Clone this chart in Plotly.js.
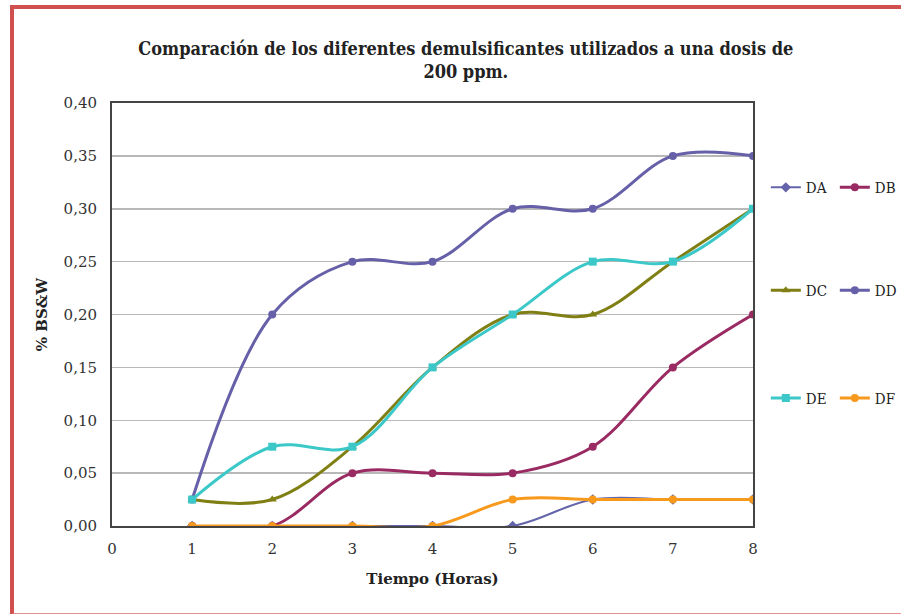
<!DOCTYPE html>
<html>
<head>
<meta charset="utf-8">
<script src="https://cdn.plot.ly/plotly-3.0.1.min.js"></script>
<style>
html,body{margin:0;padding:0;background:#fff;overflow:hidden;}
#frame{position:absolute;left:10px;top:5px;width:900px;height:604px;border-left:4px solid #d05050;border-top:4px solid #d05050;border-bottom:2px solid #e89090;}
#chart{position:absolute;left:0;top:0;width:901px;height:614px;}
</style>
</head>
<body>
<div id="frame"></div>
<div id="chart"></div>
<script>
const hours = [1, 2, 3, 4, 5, 6, 7, 8];
const DA = [0, 0, 0, 0, 0, 0.025, 0.025, 0.025];
const DB = [0, 0, 0.05, 0.05, 0.05, 0.075, 0.15, 0.2];
const DC = [0.025, 0.025, 0.075, 0.15, 0.2, 0.2, 0.25, 0.3];
const DD = [0.025, 0.2, 0.25, 0.25, 0.3, 0.3, 0.35, 0.35];
const DE = [0.025, 0.075, 0.075, 0.15, 0.2, 0.25, 0.25, 0.3];
const DF = [0, 0, 0, 0, 0.025, 0.025, 0.025, 0.025];
const xTicks = [0, 1, 2, 3, 4, 5, 6, 7, 8];
const yTicks = [0, 0.05, 0.10, 0.15, 0.20, 0.25, 0.30, 0.35, 0.40];

function tr(name, y, color, symbol, legend, width) {
  return {
    x: hours, y: y, name: name, type: 'scatter', mode: 'lines+markers',
    line: {color: color, width: width || 3, shape: 'spline', smoothing: 1},
    marker: {color: color, symbol: symbol, size: 8},
    legend: legend
  };
}
const data = [
  tr('DA', DA, '#6464aa', 'diamond', 'legend', 2),
  tr('DB', DB, '#9a2a62', 'circle', 'legend'),
  tr('DC', DC, '#7f7f14', 'triangle-up', 'legend2'),
  tr('DD', DD, '#6660a8', 'circle', 'legend2'),
  tr('DE', DE, '#3cc8c8', 'square', 'legend3'),
  tr('DF', DF, '#f7991c', 'circle', 'legend3')
];
const serif = 'DejaVu Serif, Liberation Serif, serif';
const legBase = {orientation: 'h', xanchor: 'left', yanchor: 'middle', x: 1.02,
  font: {family: 'DejaVu Serif Condensed, DejaVu Serif, serif', size: 15, color: '#222'}, bgcolor: 'rgba(0,0,0,0)',
  itemwidth: 30, entrywidth: 24, tracegroupgap: 0};
const layout = {
  width: 901, height: 614,
  paper_bgcolor: 'rgba(0,0,0,0)', plot_bgcolor: '#fff',
  separators: ',.',
  margin: {l: 112, r: 148, t: 103, b: 88, autoexpand: false},
  title: {text: '<b>Comparación de los diferentes demulsificantes utilizados a una dosis de<br>200 ppm.</b>',
    font: {family: 'DejaVu Serif Condensed, DejaVu Serif, serif', size: 18, color: '#222'},
    x: 0.552, xanchor: 'center', xref: 'paper', y: 0.911, yanchor: 'middle'},
  xaxis: {range: [0, 8], tickvals: xTicks, ticktext: xTicks.map(String), showgrid: false, zeroline: false,
    showline: true, mirror: true, linecolor: '#444', linewidth: 2, ticks: '', ticklabelstandoff: 8,
    tickfont: {family: serif, size: 15, color: '#333'},
    title: {text: '<b>Tiempo (Horas)</b>', font: {family: serif, size: 15, color: '#222'}, standoff: 16}},
  yaxis: {range: [0, 0.40], tickvals: yTicks, tickformat: '.2f', showgrid: true, gridcolor: '#b8b8b8', gridwidth: 1.5,
    zeroline: false, showline: true, mirror: true, linecolor: '#444', linewidth: 2, ticks: '', ticklabelstandoff: 10,
    tickfont: {family: serif, size: 15, color: '#333'},
    title: {text: '<b>% BS&W</b>', font: {family: serif, size: 15, color: '#222'}, standoff: 12}},
  showlegend: true,
  legend: Object.assign({}, legBase, {y: 0.80}),
  legend2: Object.assign({}, legBase, {y: 0.557}),
  legend3: Object.assign({}, legBase, {y: 0.302})
};
Plotly.newPlot('chart', data, layout, {staticPlot: true, displayModeBar: false});
</script>
</body>
</html>
